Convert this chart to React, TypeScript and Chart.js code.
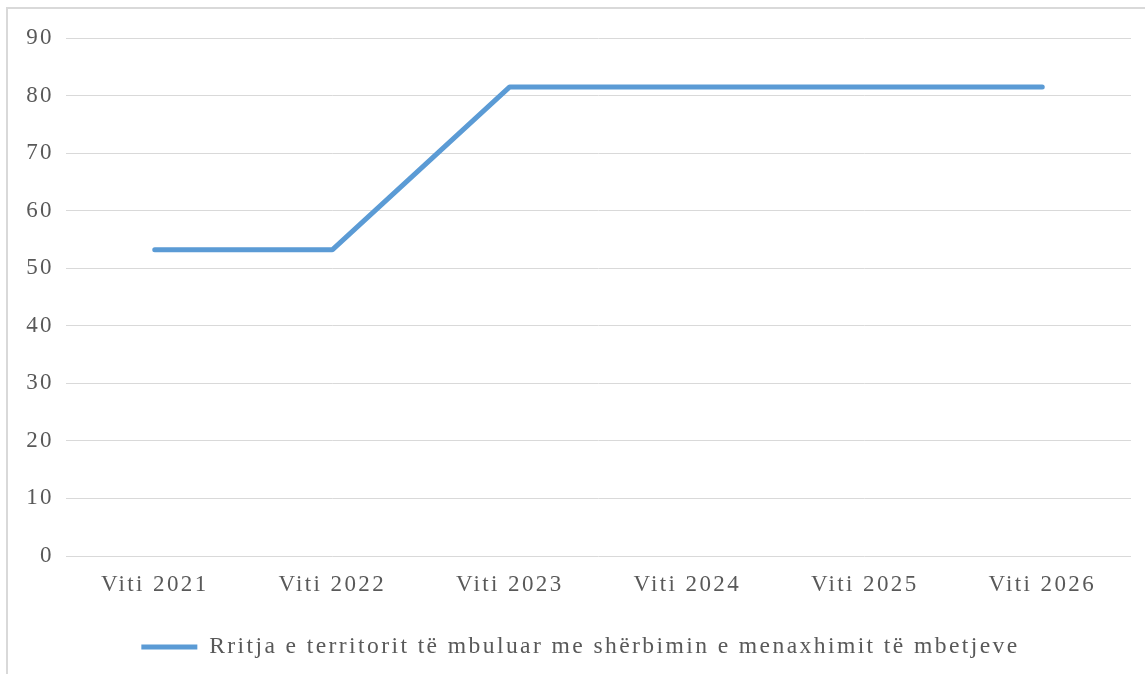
import React, { useEffect, useRef } from "react";
import { Chart, registerables } from "chart.js";

Chart.register(...registerables);

const categories = ["Viti 2021", "Viti 2022", "Viti 2023", "Viti 2024", "Viti 2025", "Viti 2026"];
const seriesLabel = "Rritja e territorit të mbuluar me shërbimin e menaxhimit të mbetjeve";
const seriesValues = [53.2, 53.2, 81.5, 81.5, 81.5, 81.5];
const yMin = 0;
const yMax = 90;
const yStep = 10;

const FONT = "'Liberation Serif', 'DejaVu Serif', serif";
const FONT_SIZE = 23;
const LEGEND_FONT_SIZE = 23.6;
const TEXT = "#595959";
const GRID = "#d9d9d9";
const LINE = "#5b9bd5";

const spacingPlugin = {
  id: "letterSpacing",
  beforeInit(chart: any) {
    chart.ctx.letterSpacing = "2.4px";
  },
  beforeLayout(chart: any) {
    chart.ctx.letterSpacing = "2.4px";
  },
  afterLayout(chart: any) {
    if (chart.legend) {
      chart.legend.left = 30;
    }
  },
  beforeDraw(chart: any) {
    chart.ctx.letterSpacing = "2.4px";
  },
};

export default function App() {
  const ref = useRef<HTMLCanvasElement | null>(null);

  useEffect(() => {
    if (!ref.current) return;
    const chart = new Chart(ref.current, {
      type: "line",
      data: {
        labels: categories,
        datasets: [
          {
            label: seriesLabel,
            data: seriesValues,
            borderColor: LINE,
            backgroundColor: LINE,
            borderWidth: 5,
            borderCapStyle: "round",
            borderJoinStyle: "bevel",
            pointRadius: 0,
            pointHoverRadius: 0,
            tension: 0,
            fill: false,
          },
        ],
      },
      plugins: [spacingPlugin],
      options: {
        responsive: false,
        animation: false,
        layout: { padding: { left: 0, right: 14, top: 38, bottom: 5.2 } },
        plugins: {
          tooltip: { enabled: false },
          legend: {
            position: "bottom",
            labels: {
              usePointStyle: true,
              pointStyle: "line",
              pointStyleWidth: 56,
              padding: 19.2,
              color: TEXT,
              font: { family: FONT, size: LEGEND_FONT_SIZE },
            },
          },
        },
        scales: {
          x: {
            offset: true,
            grid: { display: false, drawTicks: false },
            border: { display: false },
            ticks: {
              color: TEXT,
              padding: 15,
              maxRotation: 0,
              font: { family: FONT, size: FONT_SIZE },
            },
            afterFit: (scale: any) => {
              scale.height = 60;
            },
          },
          y: {
            min: yMin,
            max: yMax,
            grid: { color: GRID, lineWidth: 1, drawTicks: false },
            border: { display: false },
            ticks: {
              stepSize: yStep,
              color: TEXT,
              padding: 12,
              font: { family: FONT, size: FONT_SIZE },
            },
            afterFit: (scale: any) => {
              scale.width = 66;
            },
          },
        },
      },
    });
    return () => chart.destroy();
  }, []);

  return (
    <div style={{ position: "fixed", left: 0, top: 0, width: 1145, height: 674, background: "#fff" }}>
      <canvas ref={ref} width={1145} height={674} style={{ position: "absolute", left: 0, top: 0 }} />
      <div
        style={{
          position: "absolute",
          left: 6,
          top: 7,
          width: 1160,
          height: 700,
          borderTop: "2px solid #d9d9d9",
          borderLeft: "2px solid #d9d9d9",
          pointerEvents: "none",
        }}
      />
    </div>
  );
}
